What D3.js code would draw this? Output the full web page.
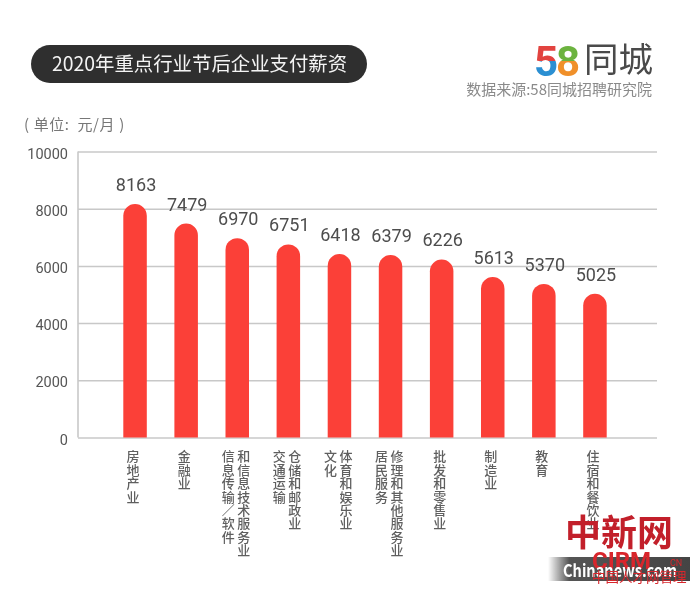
<!DOCTYPE html>
<html><head><meta charset="utf-8">
<script src="https://cdn.jsdelivr.net/npm/d3@7"></script>
<style>
html,body{margin:0;padding:0;background:#fff}
svg{display:block;filter:blur(0.35px)}
text{font-family:"Noto Sans CJK SC","Noto Sans",sans-serif}
.num{font-family:Roboto,"Noto Sans",sans-serif}
</style></head><body>
<svg id="c" width="700" height="594"></svg>
<script>
const categories=[["房地产业"],["金融业"],["和信息技术服务业","信息传输／软件"],["仓储和邮政业","交通运输"],["体育和娱乐业","文化"],["修理和其他服务业","居民服务"],["批发和零售业"],["制造业"],["教育"],["住宿和餐饮业"]];
const salaries=[8163,7479,6970,6751,6418,6379,6226,5613,5370,5025];
const yTicks=[0,2000,4000,6000,8000,10000];
const titleText="2020年重点行业节后企业支付薪资";
const sourceText="数据来源:58同城招聘研究院";
const unitText="( 单位:  元/月 )";

const svg=d3.select("#c");
const y=d3.scaleLinear().domain([0,10000]).range([437.5,151.5]);
const x=d3.scaleBand().domain(d3.range(categories.length)).range([109.5,620.5]).paddingInner(0.54).paddingOuter(0.27);
const defs=svg.append("defs");
function split(id,top,bottom,stop){
  const g=defs.append("linearGradient").attr("id",id).attr("x1",0).attr("y1",0).attr("x2",0).attr("y2",1);
  g.append("stop").attr("offset",stop).attr("stop-color",top);
  g.append("stop").attr("offset",stop).attr("stop-color",bottom);
}
split("five","#e2433f","#2b8fd2",0.5);
split("eight","#6cb33f","#f0902a",0.5);

// header
svg.append("rect").attr("x",31).attr("y",45).attr("width",336).attr("height",38).attr("rx",19).attr("fill","#2f2f2f");
svg.append("text").attr("x",52).attr("y",70.5).attr("font-size",19.4).attr("fill","#f4f4f4").text(titleText);
svg.append("text").attr("class","num").attr("x",534).attr("y",76).attr("font-size",42).attr("font-weight",700).attr("fill","url(#five)").text("5");
svg.append("text").attr("class","num").attr("x",556).attr("y",76).attr("font-size",42).attr("font-weight",700).attr("fill","url(#eight)").text("8");
svg.append("text").attr("x",584).attr("y",72).attr("font-size",34.5).attr("fill","#4a4a4a").text("同城");
svg.append("text").attr("x",652).attr("y",95).attr("text-anchor","end").attr("font-size",15).attr("fill","#8a8a8a").text(sourceText);
svg.append("text").attr("x",24).attr("y",130).attr("font-size",15).attr("fill","#777").attr("xml:space","preserve").attr("style","white-space:pre;letter-spacing:0.6px").text(unitText);

// grid + axis
const axis=d3.axisLeft(y).tickValues(yTicks).tickSize(-579).tickPadding(10).tickFormat(d3.format("d"));
const g=svg.append("g").attr("transform","translate(78,0)").call(axis);
g.select(".domain").attr("stroke","#c4c4c4").attr("stroke-width",1.5).attr("d","M0,437.5V151.5");
g.selectAll(".tick line").attr("stroke","#c8c8c8").attr("stroke-width",1.5);
g.selectAll(".tick text").attr("class","num").attr("font-size",14.5).attr("fill","#555").attr("font-family","Roboto").attr("dy","0.32em").attr("transform","translate(0,2)");

// bars: rounded top, flat base
svg.append("g").selectAll("path").data(salaries).join("path")
 .attr("fill","#fb4038")
 .attr("d",(d,i)=>{const a=x(i),w=x.bandwidth(),r=w/2,t=y(d),b=y(0);
   return `M${a},${b}V${t+r}A${r},${r} 0 0 1 ${a+w},${t+r}V${b}Z`;});

// value labels
svg.append("g").selectAll("text").data(salaries).join("text").attr("class","num")
 .attr("x",(d,i)=>x(i)+x.bandwidth()/2+1).attr("y",d=>y(d)-13)
 .attr("text-anchor","middle").attr("font-size",18).attr("font-weight",400).attr("fill","#4d4d4d").text(d=>d);

// vertical category labels
const cat=svg.append("g");
categories.forEach((lines,i)=>{
  const cx=x(i)+x.bandwidth()/2;
  const n=lines.length;
  lines.forEach((s,j)=>{
    const px=n===1?cx-2:cx+6.5-j*15.5;
    cat.append("text").attr("x",px).attr("y",450)
      .attr("style","writing-mode:vertical-rl;letter-spacing:0.4px")
      .attr("font-size",13).attr("font-weight",500).attr("fill","#5f5f5f").text(s);
  });
});

// watermark
const gr=defs.append("linearGradient").attr("id","wm");
gr.append("stop").attr("offset","0").attr("stop-color","#ffffff");
gr.append("stop").attr("offset","0.15").attr("stop-color","#555");
gr.append("stop").attr("offset","1").attr("stop-color","#444");
svg.append("rect").attr("x",548).attr("y",557).attr("width",142).attr("height",24).attr("fill","url(#wm)");
svg.append("text").attr("x",565).attr("y",546).attr("font-size",36).attr("font-weight",700).attr("fill","#c21f2a").text("中新网");
svg.append("text").attr("x",592).attr("y",569).attr("font-size",24).attr("font-weight",700).attr("class","num").attr("fill","#d8262c").text("CIRM");
svg.append("text").attr("x",670).attr("y",566).attr("font-size",9).attr("class","num").attr("fill","#d8262c").text("CN");
svg.append("text").attr("x",563).attr("y",577).attr("font-size",17).attr("font-weight",700).attr("font-family","Liberation Sans Narrow").attr("textLength",114).attr("lengthAdjust","spacingAndGlyphs").attr("fill","#fff").text("Chinanews.com");
svg.append("text").attr("x",592).attr("y",582).attr("font-size",13.5).attr("fill","#d8262c").text("中国人才网管理");
</script></body></html>
